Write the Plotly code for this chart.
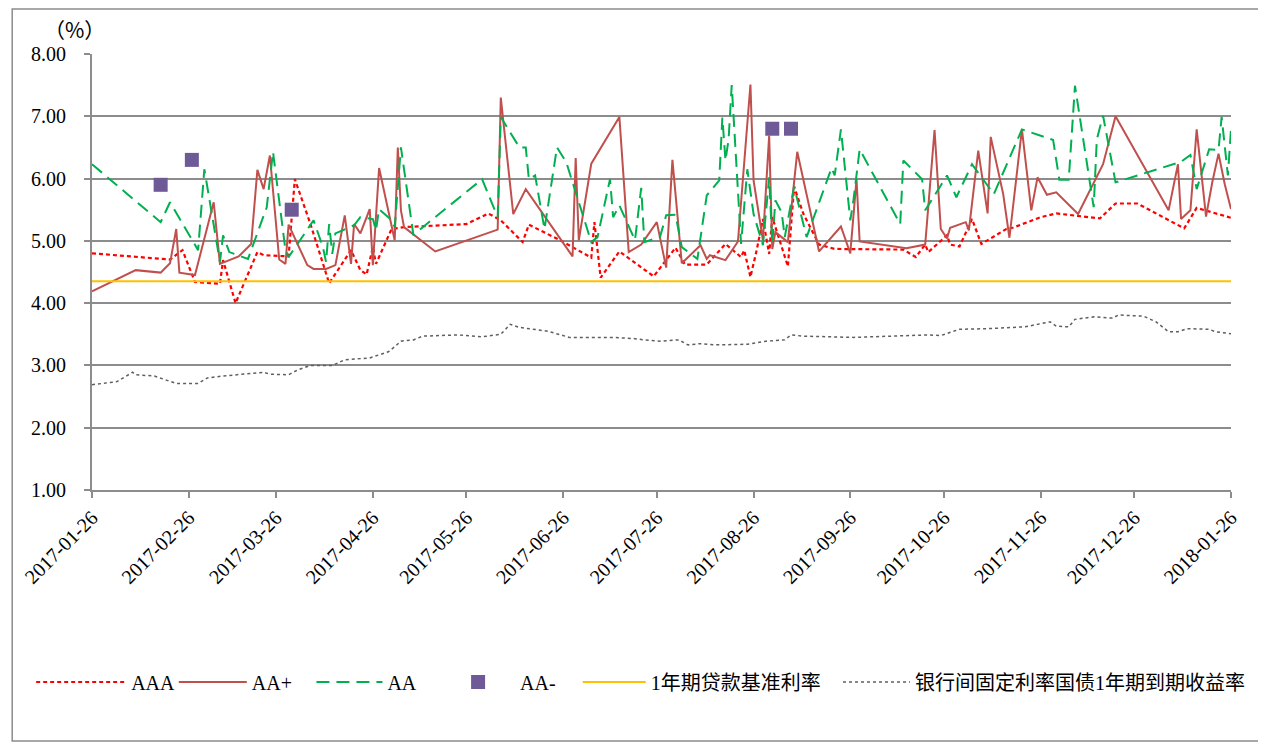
import plotly.graph_objects as go

# ---------------- data ----------------
aaa_dates = ["2017-01-26","2017-02-20","2017-02-24","2017-02-28","2017-03-08","2017-03-09","2017-03-13",
             "2017-03-20","2017-03-22","2017-03-30","2017-04-01","2017-04-06","2017-04-12","2017-04-19",
             "2017-04-22","2017-04-24","2017-04-26","2017-04-27","2017-05-02","2017-05-06","2017-05-26",
             "2017-06-02","2017-06-06","2017-06-13","2017-06-15","2017-06-25","2017-07-05","2017-07-06",
             "2017-07-08","2017-07-14","2017-07-25","2017-08-01","2017-08-04","2017-08-11","2017-08-17",
             "2017-08-22","2017-08-23","2017-08-25","2017-08-27","2017-08-29","2017-08-31","2017-09-01",
             "2017-09-06","2017-09-08","2017-09-11","2017-09-16","2017-09-21","2017-10-13","2017-10-17",
             "2017-10-20","2017-10-21","2017-10-27","2017-10-28","2017-10-31","2017-11-04","2017-11-07",
             "2017-11-15","2017-11-17","2017-11-26","2017-12-01","2017-12-15","2017-12-20","2017-12-27",
             "2018-01-11","2018-01-15","2018-01-26"]
aaa_values = [4.80,4.70,4.85,4.34,4.31,4.69,4.00,
              4.82,4.77,4.75,5.99,5.27,4.32,4.85,
              4.53,4.46,4.90,4.63,5.19,5.22,5.27,
              5.44,5.33,4.98,5.26,5.01,4.73,5.30,
              4.41,4.83,4.43,4.89,4.62,4.62,4.95,
              4.74,4.85,4.42,4.85,5.35,4.79,5.38,
              4.59,5.87,5.43,4.94,4.87,4.86,4.74,
              4.94,4.82,5.09,4.94,4.91,5.35,4.95,
              5.19,5.21,5.38,5.44,5.36,5.60,5.60,
              5.20,5.53,5.37]

aap_dates = ["2017-01-26","2017-02-09","2017-02-17","2017-02-20","2017-02-22","2017-02-23","2017-02-28",
             "2017-03-06","2017-03-08","2017-03-14","2017-03-18","2017-03-20","2017-03-22","2017-03-24",
             "2017-03-27","2017-03-29","2017-03-30","2017-04-05","2017-04-07","2017-04-11","2017-04-14",
             "2017-04-17","2017-04-19","2017-04-20","2017-04-22","2017-04-25","2017-04-26","2017-04-28",
             "2017-05-03","2017-05-04","2017-05-05","2017-05-06","2017-05-16","2017-06-05","2017-06-06",
             "2017-06-10","2017-06-14","2017-06-29","2017-06-30","2017-07-01","2017-07-05","2017-07-14",
             "2017-07-17","2017-07-21","2017-07-26","2017-07-29","2017-07-31","2017-08-03","2017-08-09",
             "2017-08-11","2017-08-12","2017-08-17","2017-08-21","2017-08-25","2017-08-26","2017-08-29",
             "2017-08-31","2017-09-01","2017-09-02","2017-09-06","2017-09-09","2017-09-16","2017-09-23",
             "2017-09-26","2017-09-28","2017-09-29","2017-10-14","2017-10-20","2017-10-23","2017-10-25",
             "2017-10-27","2017-10-28","2017-11-02","2017-11-03","2017-11-06","2017-11-09","2017-11-10",
             "2017-11-14","2017-11-16","2017-11-20","2017-11-23","2017-11-25","2017-11-28","2017-12-01",
             "2017-12-08","2017-12-16","2017-12-20","2018-01-06","2018-01-09","2018-01-10","2018-01-13",
             "2018-01-15","2018-01-18","2018-01-20","2018-01-22","2018-01-24","2018-01-26"]
aap_values = [4.19,4.53,4.49,4.64,5.19,4.49,4.45,
              5.62,4.63,4.75,4.95,6.14,5.83,6.37,
              4.70,4.63,5.26,4.61,4.55,4.55,4.61,
              5.41,4.63,5.27,5.12,5.51,4.61,6.17,
              5.01,6.50,5.49,5.22,4.83,5.18,7.30,
              5.43,5.83,4.75,6.33,5.01,6.24,6.99,
              4.82,4.94,5.30,4.57,6.30,4.64,4.93,
              4.71,4.77,4.69,4.99,7.51,5.97,5.01,
              6.69,4.87,5.14,4.98,6.43,4.83,5.23,
              4.80,5.99,4.99,4.88,4.94,6.78,5.19,
              5.04,5.21,5.30,5.17,6.45,5.44,6.67,
              5.75,5.05,6.79,5.49,6.02,5.74,5.78,
              5.43,6.23,7.00,5.49,6.23,5.35,5.49,
              6.79,5.39,5.94,6.40,5.91,5.51]

aa_dates = ["2017-01-26","2017-02-17","2017-02-20","2017-03-01","2017-03-03","2017-03-08","2017-03-09",
            "2017-03-11","2017-03-17","2017-03-23","2017-03-25","2017-03-29","2017-03-30","2017-04-07",
            "2017-04-10","2017-04-11","2017-04-12","2017-04-13","2017-04-14","2017-04-20","2017-04-22",
            "2017-04-26","2017-04-27","2017-04-28","2017-05-02","2017-05-03","2017-05-05","2017-05-09",
            "2017-05-12","2017-05-31","2017-06-05","2017-06-06","2017-06-09","2017-06-12","2017-06-14",
            "2017-06-15","2017-06-17","2017-06-20","2017-06-24","2017-06-27","2017-07-05","2017-07-07",
            "2017-07-11","2017-07-12","2017-07-14","2017-07-17","2017-07-19","2017-07-21","2017-07-22",
            "2017-07-27","2017-07-29","2017-08-01","2017-08-03","2017-08-08","2017-08-11","2017-08-15",
            "2017-08-16","2017-08-17","2017-08-18","2017-08-19","2017-08-22","2017-08-24","2017-08-26",
            "2017-08-29","2017-08-31","2017-09-01","2017-09-02","2017-09-04","2017-09-05","2017-09-08",
            "2017-09-12","2017-09-20","2017-09-21","2017-09-23","2017-09-26","2017-09-27","2017-09-29",
            "2017-10-12","2017-10-13","2017-10-19","2017-10-20","2017-10-27","2017-10-30","2017-11-04",
            "2017-11-11","2017-11-20","2017-11-30","2017-12-02","2017-12-05","2017-12-07","2017-12-13",
            "2017-12-14","2017-12-16","2017-12-20","2018-01-10","2018-01-13","2018-01-15","2018-01-19",
            "2018-01-22","2018-01-23","2018-01-25","2018-01-26"]
aa_values = [6.23,5.30,5.62,4.85,6.15,4.66,5.09,
             4.82,4.71,5.54,6.43,4.85,4.74,5.33,
             4.90,4.66,5.27,4.79,5.12,5.25,5.38,
             5.35,5.17,5.51,5.33,5.22,6.50,5.09,
             5.22,5.99,5.38,6.99,6.74,6.50,6.50,
             5.99,6.05,5.19,6.50,6.26,4.98,5.06,
             5.99,5.38,5.57,5.22,5.01,5.85,4.98,
             5.06,5.41,5.42,4.90,4.71,5.73,5.97,
             6.98,6.29,6.63,7.50,4.95,6.15,5.43,
             4.93,6.02,4.95,5.65,5.46,5.06,5.87,
             5.06,6.17,6.05,6.79,5.33,5.65,6.47,
             5.27,6.29,5.99,5.49,6.05,5.70,6.23,
             5.75,6.79,6.62,5.98,5.98,7.49,5.54,
             6.63,7.01,5.94,6.27,6.38,5.83,6.47,
             6.46,6.99,6.05,6.79]

aam_dates = ["2017-02-17","2017-02-27","2017-03-31","2017-09-01","2017-09-07"]
aam_values = [5.90,6.30,5.50,6.80,6.80]

loan_dates = ["2017-01-26","2018-01-26"]
loan_values = [4.35,4.35]

bond_dates = ["2017-01-26","2017-02-03","2017-02-08","2017-02-09","2017-02-15","2017-02-22","2017-03-01",
              "2017-03-04","2017-03-09","2017-03-16","2017-03-22","2017-03-24","2017-03-30","2017-04-02",
              "2017-04-06","2017-04-13","2017-04-17","2017-04-25","2017-05-01","2017-05-03","2017-05-05",
              "2017-05-09","2017-05-12","2017-05-23","2017-05-31","2017-06-06","2017-06-09","2017-06-12",
              "2017-06-21","2017-06-28","2017-07-12","2017-07-19","2017-07-22","2017-07-27","2017-08-02",
              "2017-08-05","2017-08-09","2017-08-14","2017-08-24","2017-08-30","2017-09-05","2017-09-07",
              "2017-09-11","2017-09-27","2017-10-21","2017-10-25","2017-10-31","2017-11-09","2017-11-21",
              "2017-11-29","2017-12-01","2017-12-05","2017-12-07","2017-12-13","2017-12-19","2017-12-21",
              "2017-12-29","2018-01-02","2018-01-06","2018-01-09","2018-01-12","2018-01-19","2018-01-21",
              "2018-01-26"]
bond_values = [2.69,2.74,2.89,2.85,2.83,2.71,2.71,
               2.80,2.83,2.86,2.89,2.86,2.85,2.93,
               3.00,3.00,3.09,3.12,3.22,3.30,3.39,
               3.41,3.47,3.49,3.46,3.50,3.66,3.61,
               3.55,3.45,3.45,3.43,3.41,3.39,3.41,
               3.33,3.35,3.33,3.34,3.39,3.41,3.49,
               3.47,3.45,3.49,3.48,3.58,3.59,3.62,
               3.70,3.63,3.62,3.74,3.78,3.76,3.81,
               3.79,3.70,3.54,3.54,3.59,3.58,3.54,
               3.51]

tick_dates = ["2017-01-26","2017-02-26","2017-03-26","2017-04-26","2017-05-26","2017-06-26","2017-07-26",
              "2017-08-26","2017-09-26","2017-10-26","2017-11-26","2017-12-26","2018-01-26"]
y_ticks = [1, 2, 3, 4, 5, 6, 7, 8]

series_names = ["AAA", "AA+", "AA", "AA-", "1年期贷款基准利率", "银行间固定利率国债1年期到期收益率"]

# ---------------- layout constants (figure pixels; page has an 8px body offset) ----------------
OFF = 8
W, H = 1266 - OFF, 744 - OFF
ML, MT = 89 - OFF, 54 - OFF
MR, MB = W - (1231 - OFF), H - (490 - OFF)
PW, PH = W - ML - MR, H - MT - MB

def px_x(p):
    """page pixel x -> paper x"""
    return (p - OFF - ML) / PW

def px_y(p):
    """page pixel y -> paper y"""
    return (H - MB - (p - OFF)) / PH

FONT = "Liberation Serif, 'Times New Roman', 'Noto Sans CJK SC', serif"
GRID = "#8c8c8c"

# legend slots: (item origin page x, symbol width)
legend_slots = [(28, 90), (171, 68), (309, 66), (434, 74), (576, 63), (837, 67)]
legend_ids = ["legend", "legend2", "legend3", "legend4", "legend5", "legend6"]
LEG_Y = 682

fig = go.Figure()
fig.add_trace(go.Scatter(x=aaa_dates, y=aaa_values, name=series_names[0], mode="lines",
                         line=dict(color="#FF0000", width=2.2, dash="4px,3px")))
fig.add_trace(go.Scatter(x=aap_dates, y=aap_values, name=series_names[1], mode="lines",
                         line=dict(color="#C0504D", width=2)))
fig.add_trace(go.Scatter(x=aa_dates, y=aa_values, name=series_names[2], mode="lines",
                         line=dict(color="#00B050", width=2, dash="13px,7px")))
fig.add_trace(go.Scatter(x=aam_dates, y=aam_values, name=series_names[3], mode="markers",
                         marker=dict(symbol="square", size=14, color="#6E5A96",
                                     line=dict(width=0))))
fig.add_trace(go.Scatter(x=loan_dates, y=loan_values, name=series_names[4], mode="lines",
                         line=dict(color="#FFC000", width=2)))
fig.add_trace(go.Scatter(x=bond_dates, y=bond_values, name=series_names[5], mode="lines",
                         line=dict(color="#5f5f5f", width=1.5, dash="dot")))

legend_layouts = {}
for tr, lid, (ox, iw) in zip(fig.data, legend_ids, legend_slots):
    tr.legend = lid
    legend_layouts[lid] = dict(orientation="h", x=px_x(ox), xanchor="left", y=px_y(LEG_Y),
                               yanchor="middle", font=dict(family=FONT, size=20),
                               itemwidth=iw, bgcolor="rgba(0,0,0,0)", borderwidth=0)

fig.update_layout(
    width=W, height=H,
    margin=dict(l=ML, r=MR, t=MT, b=MB),
    paper_bgcolor="white", plot_bgcolor="white",
    font=dict(family=FONT, size=20, color="#000000"),
    showlegend=True,
    xaxis=dict(type="date", range=["2017-01-26", "2018-01-26"], tickvals=tick_dates,
               tickformat="%Y-%m-%d", tickangle=-45, showgrid=False, zeroline=False,
               showline=True, linecolor=GRID, linewidth=2, ticks="outside", ticklen=6,
               tickcolor=GRID, tickwidth=2, tickfont=dict(family=FONT, size=20)),
    yaxis=dict(range=[1, 8], tickvals=y_ticks, tickformat=".2f", showgrid=True,
               gridcolor=GRID, gridwidth=2, zeroline=False, showline=True, linecolor=GRID,
               linewidth=2, ticks="outside", ticklen=6, tickcolor=GRID, tickwidth=2,
               ticklabelstandoff=14, tickfont=dict(family=FONT, size=20)),
    annotations=[dict(text="（%）", xref="paper", yref="paper", x=px_x(71), y=px_y(29),
                      xanchor="center", yanchor="middle", showarrow=False,
                      font=dict(family="'Noto Sans CJK SC', sans-serif", size=21))],
    shapes=[dict(type="rect", xref="paper", yref="paper", x0=px_x(OFF + 1), x1=px_x(1262),
                 y0=px_y(741), y1=px_y(OFF + 1), line=dict(color="#8c8c8c", width=1.5),
                 fillcolor="rgba(0,0,0,0)", layer="below")],
    **legend_layouts,
)

fig.write_html("out.html")
